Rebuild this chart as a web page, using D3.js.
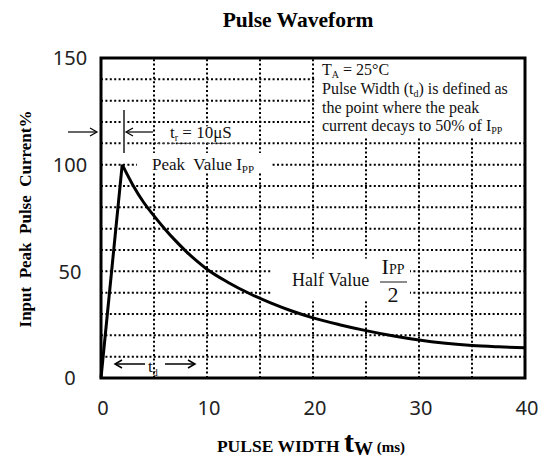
<!DOCTYPE html>
<html>
<head>
<meta charset="utf-8">
<script src="https://cdn.jsdelivr.net/npm/d3@7/dist/d3.min.js"></script>
<style>
  html, body { margin: 0; padding: 0; background: #fff; }
  svg { display: block; }
  .serif { font-family: "Liberation Serif", "DejaVu Serif", serif; }
  .sans { font-family: "Noto Sans", "Open Sans", sans-serif; }
</style>
</head>
<body>
<svg id="chart" width="538" height="462"></svg>
<script>
// ---- data ----
const xTicks = [0, 10, 20, 30, 40];
const yTicks = [0, 50, 100, 150];
const gridX = [5, 10, 15, 20, 25, 30, 35];
const gridY = [10, 20, 30, 40, 50, 60, 70, 80, 90, 100, 110, 120, 130, 140];
const riseT = [0, 2];
const riseV = [0, 100];
const decayT = [2, 3, 4, 5, 6, 7, 8, 9, 10, 12, 14, 16, 18, 20, 22.5, 25, 27.5, 30, 32.5, 35, 37.5, 40];
const decayV = [100, 90.5, 82.5, 76, 70, 64.5, 59.5, 55, 51, 44.8, 39.6, 35.2, 31.4, 28.2, 25, 22.2, 19.8, 17.8, 16.3, 15.2, 14.6, 14.2];

const svg = d3.select("#chart");
const x = d3.scaleLinear().domain([0, 40]).range([101, 525]);
const y = d3.scaleLinear().domain([0, 150]).range([378, 58]);

// ---- grid ----
const grid = svg.append("g").attr("stroke", "#000").attr("stroke-width", 2).attr("stroke-dasharray", "2,2.4");
grid.selectAll("line.h").data(gridY).join("line")
  .attr("x1", x(0)).attr("x2", x(40)).attr("y1", d => y(d)).attr("y2", d => y(d));
grid.selectAll("line.v").data(gridX).join("line")
  .attr("x1", d => x(d)).attr("x2", d => x(d)).attr("y1", y(0)).attr("y2", y(150));

// ---- white label boxes ----
const boxes = svg.append("g").attr("fill", "#fff");
boxes.append("rect").attr("x", x(20) + 2).attr("y", y(150)).attr("width", x(40) - x(20) - 2).attr("height", y(113) - y(150));
boxes.append("rect").attr("x", 160).attr("y", y(118)).attr("width", 78).attr("height", y(110.5) - y(118));
boxes.append("rect").attr("x", 137).attr("y", y(105.5)).attr("width", 135).attr("height", y(96.5) - y(105.5));
boxes.append("rect").attr("x", 272).attr("y", y(56)).attr("width", 138).attr("height", y(36) - y(56));

// thin dashed line under t_r
svg.append("line").attr("x1", 157).attr("x2", 238).attr("y1", y(110)).attr("y2", y(110))
  .attr("stroke", "#444").attr("stroke-width", 1).attr("stroke-dasharray", "3,2");

// ---- curve ----
const rise = riseT.map((t, i) => [t, riseV[i]]);
const decay = decayT.map((t, i) => [t, decayV[i]]);
svg.append("path").datum(rise)
  .attr("d", d3.line().x(d => x(d[0])).y(d => y(d[1])))
  .attr("fill", "none").attr("stroke", "#000").attr("stroke-width", 3);
svg.append("path").datum(decay)
  .attr("d", d3.line().x(d => x(d[0])).y(d => y(d[1])).curve(d3.curveMonotoneX))
  .attr("fill", "none").attr("stroke", "#000").attr("stroke-width", 3).attr("stroke-linejoin", "round");

// ---- frame ----
svg.append("rect").attr("x", x(0)).attr("y", y(150)).attr("width", x(40) - x(0)).attr("height", y(0) - y(150))
  .attr("fill", "none").attr("stroke", "#000").attr("stroke-width", 3);

// ---- axes tick labels ----
svg.append("g").selectAll("text").data(yTicks).join("text")
  .attr("class", "sans").attr("x", 70).attr("y", d => y(d)).attr("dy", "0.36em")
  .attr("text-anchor", "middle").attr("font-size", 20).attr("fill", "#222").text(d => d);
svg.append("g").selectAll("text").data(xTicks).join("text")
  .attr("class", "sans").attr("x", d => x(d) + 2).attr("y", 415)
  .attr("text-anchor", "middle").attr("font-size", 20).attr("fill", "#222").text(d => d);

// ---- title ----
svg.append("text").attr("class", "serif").attr("x", 298).attr("y", 27)
  .attr("text-anchor", "middle").attr("font-size", 21.5).attr("font-weight", "bold").text("Pulse Waveform");

// ---- y axis label ----
svg.append("text").attr("class", "serif")
  .attr("transform", "translate(31,219) rotate(-90)")
  .attr("text-anchor", "middle").attr("font-size", 17).attr("font-weight", "bold")
  .attr("xml:space", "preserve").style("white-space", "pre")
  .text("Input  Peak  Pulse  Current%");

// ---- x axis label ----
const xl = svg.append("text").attr("class", "serif").attr("x", 311).attr("y", 452)
  .attr("text-anchor", "middle").attr("font-weight", "bold");
xl.append("tspan").attr("font-size", 17.5).text("PULSE WIDTH ");
xl.append("tspan").attr("font-size", 30).text("t");
xl.append("tspan").attr("font-size", 19).attr("dy", 3).text("W");
xl.append("tspan").attr("font-size", 15).attr("dy", -3).text(" (ms)");

// ---- note text ----
const note = svg.append("g").attr("class", "serif").attr("font-size", 16).attr("fill", "#111");
const n1 = note.append("text").attr("x", 322).attr("y", 75);
n1.append("tspan").text("T");
n1.append("tspan").attr("font-size", 10).attr("dy", 3).text("A");
n1.append("tspan").attr("dy", -3).text(" = 25°C");
const n2 = note.append("text").attr("x", 322).attr("y", 94);
n2.append("tspan").text("Pulse Width (t");
n2.append("tspan").attr("font-size", 10).attr("dy", 3).text("d");
n2.append("tspan").attr("dy", -3).text(") is defined as");
note.append("text").attr("x", 322).attr("y", 113).text("the point where the peak");
const n4 = note.append("text").attr("x", 322).attr("y", 131);
n4.append("tspan").text("current decays to 50% of I");
n4.append("tspan").attr("font-size", 10).attr("dy", 3).text("PP");

// ---- t_r annotation ----
const ann = svg.append("g").attr("stroke", "#000").attr("fill", "none").attr("stroke-width", 1.2);
ann.append("line").attr("x1", 68).attr("x2", 96).attr("y1", 132).attr("y2", 132);
ann.append("path").attr("d", "M90,128 L97,132 L90,136");
ann.append("line").attr("x1", 127).attr("x2", 153).attr("y1", 132).attr("y2", 132);
ann.append("path").attr("d", "M133,128 L126,132 L133,136");
svg.append("line").attr("x1", 124).attr("x2", 124).attr("y1", 110).attr("y2", 153)
  .attr("stroke", "#555").attr("stroke-width", 2);
const tr = svg.append("text").attr("class", "serif").attr("x", 170).attr("y", 138).attr("font-size", 17).attr("fill", "#111");
tr.append("tspan").text("t");
tr.append("tspan").attr("font-size", 10).attr("dy", 3).text("r");
tr.append("tspan").attr("dy", -3).text(" = 10μS");

// ---- Peak value ----
const pk = svg.append("text").attr("class", "serif").attr("x", 152).attr("y", 170).attr("font-size", 17).attr("fill", "#111")
  .attr("xml:space", "preserve").style("white-space", "pre");
pk.append("tspan").text("Peak  Value I");
pk.append("tspan").attr("font-size", 11).attr("dy", 3).text("PP");

// ---- Half value ----
svg.append("text").attr("class", "serif").attr("x", 292).attr("y", 286).attr("font-size", 18).attr("fill", "#111").text("Half Value");
const hv = svg.append("text").attr("class", "serif").attr("x", 393).attr("y", 274).attr("text-anchor", "middle").attr("fill", "#111");
hv.append("tspan").attr("font-size", 22).text("I");
hv.append("tspan").attr("font-size", 14).text("PP");
svg.append("line").attr("x1", 380).attr("x2", 407).attr("y1", 282).attr("y2", 282).attr("stroke", "#666").attr("stroke-width", 1.5);
svg.append("text").attr("class", "serif").attr("x", 393).attr("y", 302).attr("text-anchor", "middle").attr("font-size", 22).attr("fill", "#111").text("2");

// ---- t_d annotation ----
const td = svg.append("g").attr("stroke", "#000").attr("fill", "none").attr("stroke-width", 1.5);
td.append("line").attr("x1", 116).attr("x2", 145).attr("y1", 364).attr("y2", 364);
td.append("path").attr("d", "M122,360 L115,364 L122,368");
td.append("line").attr("x1", 165).attr("x2", 194).attr("y1", 364).attr("y2", 364);
td.append("path").attr("d", "M188,360 L195,364 L188,368");
const tdt = svg.append("text").attr("class", "serif").attr("x", 148).attr("y", 372).attr("font-size", 17).attr("fill", "#111");
tdt.append("tspan").text("t");
tdt.append("tspan").attr("font-size", 10).attr("dy", 4).text("d");
</script>
</body>
</html>
